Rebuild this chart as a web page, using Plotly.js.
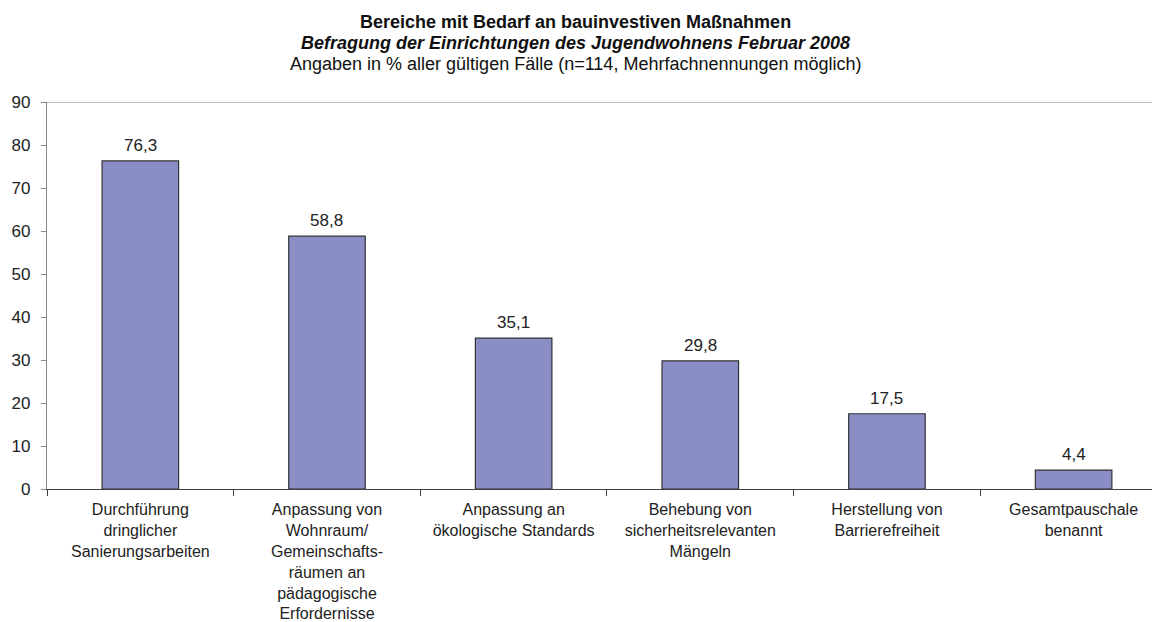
<!DOCTYPE html>
<html>
<head>
<meta charset="utf-8">
<script src="https://cdn.plot.ly/plotly-3.0.1.min.js"></script>
<style>html,body{margin:0;padding:0;background:#fff;overflow:hidden;}#chart{width:1152px;height:622px;}</style>
</head>
<body>
<div id="chart"></div>
<script>
const categories = [
  "Durchführung<br>dringlicher<br>Sanierungsarbeiten",
  "Anpassung von<br>Wohnraum/<br>Gemeinschafts-<br>räumen an<br>pädagogische<br>Erfordernisse",
  "Anpassung an<br>ökologische Standards",
  "Behebung von<br>sicherheitsrelevanten<br>Mängeln",
  "Herstellung von<br>Barrierefreiheit",
  "Gesamtpauschale<br>benannt"
];
const values = [76.3, 58.8, 35.1, 29.8, 17.5, 4.4];
const yTicks = [0, 10, 20, 30, 40, 50, 60, 70, 80, 90];
const titleLines = [
  "<b>Bereiche mit Bedarf an bauinvestiven Maßnahmen</b>",
  "<b><i>Befragung der Einrichtungen des Jugendwohnens Februar 2008</i></b>",
  "Angaben in % aller gültigen Fälle (n=114, Mehrfachnennungen möglich)"
];

const FONT = '"Liberation Sans", Arial, sans-serif';
const labels = values.map(v => v.toFixed(1).replace('.', ','));

const trace = {
  type: 'bar',
  x: categories,
  y: values,
  width: 0.41,
  marker: {color: '#8A8EC5', line: {color: '#333333', width: 1.2}},
  hoverinfo: 'skip'
};

const annotations = categories.map((c, i) => ({
  x: c, y: values[i], xref: 'x', yref: 'y',
  text: labels[i], showarrow: false,
  yanchor: 'bottom', yshift: 4,
  font: {family: FONT, size: 17, color: '#222'}
}));

const titleY = [1.207, 1.153, 1.098];
titleLines.forEach((t, i) => annotations.push({
  x: 0.4787, y: titleY[i], xref: 'paper', yref: 'paper',
  xanchor: 'center', yanchor: 'middle',
  text: t, showarrow: false,
  font: {family: FONT, size: 18, color: '#111'}
}));

const layout = {
  width: 1152, height: 622,
  margin: {l: 47, r: 0, t: 102, b: 133},
  paper_bgcolor: '#fff', plot_bgcolor: '#fff',
  font: {family: FONT, size: 16, color: '#222'},
  showlegend: false,
  xaxis: {
    type: 'category',
    range: [-0.5, 5.42],
    showline: true, linecolor: '#404040', linewidth: 1.2,
    ticks: 'outside', ticklen: 6, tickcolor: '#404040', tickwidth: 1,
    tickson: 'boundaries',
    ticklabelstandoff: 6,
    showgrid: false, zeroline: false,
    tickfont: {family: FONT, size: 16, color: '#222'},
    fixedrange: true
  },
  yaxis: {
    range: [0, 90],
    tickmode: 'array', tickvals: yTicks, ticktext: yTicks.map(String),
    showline: true, linecolor: '#888888', linewidth: 1.2,
    ticks: 'outside', ticklen: 5, tickcolor: '#888888', tickwidth: 1,
    ticklabelstandoff: 7,
    showgrid: false, zeroline: false,
    tickfont: {family: FONT, size: 17, color: '#222'},
    fixedrange: true
  },
  shapes: [{
    type: 'line', xref: 'paper', yref: 'y', x0: 0, x1: 1, y0: 90, y1: 90,
    line: {color: '#A8A8A8', width: 1.5}
  }],
  annotations: annotations
};

Plotly.newPlot('chart', [trace], layout, {displayModeBar: false, staticPlot: true});
</script>
</body>
</html>
